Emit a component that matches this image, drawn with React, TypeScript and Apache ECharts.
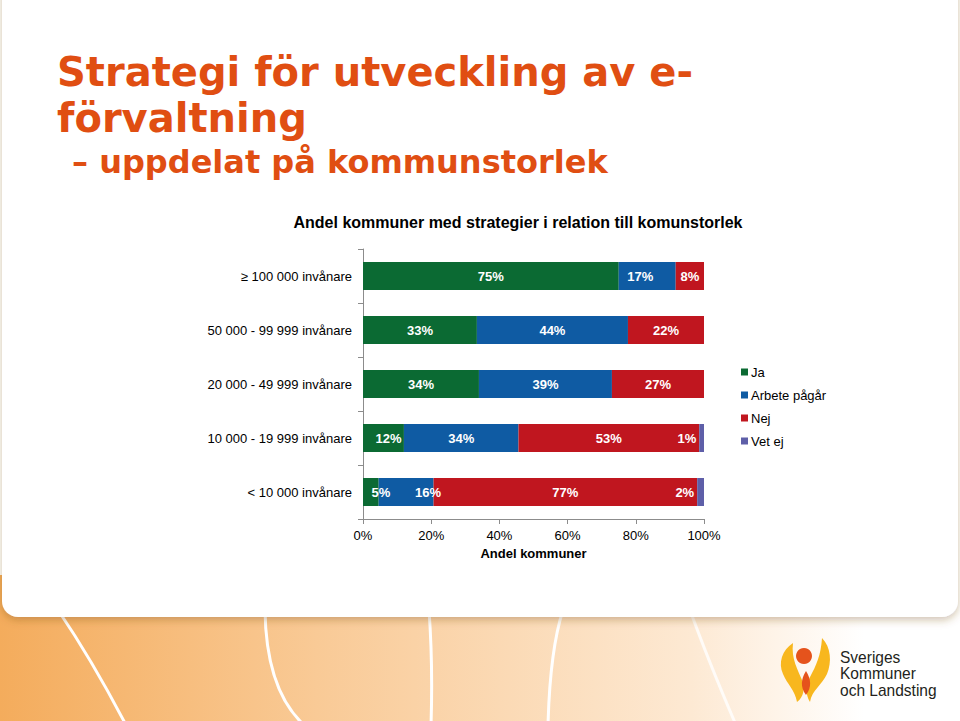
import React, { useEffect, useRef } from "react";
import * as echarts from "echarts";

const categories = [
  "≥ 100 000 invånare",
  "50 000 - 99 999 invånare",
  "20 000 - 49 999 invånare",
  "10 000 - 19 999 invånare",
  "< 10 000 invånare",
];
const seriesNames = ["Ja", "Arbete pågår", "Nej", "Vet ej"];
const jaValues = [75, 33.4, 34, 12, 4.6];
const arbeteValues = [16.7, 44.3, 39, 33.6, 16.1];
const nejValues = [8.3, 22.3, 27, 53, 77.3];
const vetEjValues = [0, 0, 0, 1.4, 2];
const xTicks = [0, 20, 40, 60, 80, 100];

const COLORS = ["#0B6A33", "#0F5BA3", "#C0161F", "#5E5FA8"];
const ORANGE = "#E04E12";

const yellowPath =
  "M793,643 C782,650 778,663 783,674 C787,684 795,690 797,702 C804,697 805,688 802,680 C798,670 791,659 793,643 Z " +
  "M822,638 C831,647 832,662 827,674 C822,685 812,690 810,702 C805,694 806,685 810,677 C816,666 821,655 822,638 Z";
const dropPath = "M806,671 C811,679 812,687 806,695 C800,687 801,679 806,671 Z";

echarts.graphic.registerShape("sklYellow", echarts.graphic.extendPath(yellowPath, {}) as any);
echarts.graphic.registerShape("sklDrop", echarts.graphic.extendPath(dropPath, {}) as any);

// label nudges (series index | category index) -> pixel offset
const labelNudge: Record<string, [number, number]> = {
  "0|3": [5, 0],
  "0|4": [10, 0],
  "1|4": [22, 0],
  "1|0": [-7, 0],
};

export default function App() {
  const ref = useRef<HTMLDivElement>(null);
  useEffect(() => {
    if (!ref.current) return;
    const chart = echarts.init(ref.current, null, { renderer: "svg" });
    const all = [jaValues, arbeteValues, nejValues, vetEjValues];
    const series = all.map((vals, si) => ({
      name: seriesNames[si],
      type: "bar",
      stack: "total",
      barWidth: 28,
      itemStyle: { color: COLORS[si] },
      label: {
        show: true,
        position: si === 3 ? "left" : "inside",
        distance: 3,
        color: "#fff",
        fontWeight: "bold",
        fontSize: 13,
        fontFamily: "Liberation Sans, Arial, sans-serif",
        formatter: (p: any) => (p.value > 0 ? Math.round(p.value) + "%" : ""),
      },
      data: vals.map((v, ci) => {
        const n = labelNudge[si + "|" + ci];
        return n ? { value: v, label: { offset: n } } : v;
      }),
    }));

    const curve = (x1: number, x2: number, cpx: number, cpy: number, op = 1) => ({
      type: "bezierCurve",
      z: 0,
      shape: { x1, y1: 610, x2, y2: 725, cpx1: cpx, cpy1: cpy },
      style: { stroke: `rgba(255,255,255,${op})`, lineWidth: 3, fill: "none" },
    });

    const titleText = (text: string, x: number, y: number, size: number) => ({
      type: "text",
      z: 1,
      x,
      y,
      style: {
        text,
        fill: ORANGE,
        font: `bold ${size}px 'DejaVu Sans', Verdana, sans-serif`,
        lineHeight: size,
        verticalAlign: "top",
      },
    });

    chart.setOption({
      animation: false,
      backgroundColor: "#fff",
      title: {
        text: "Andel kommuner med strategier i relation till komunstorlek",
        left: 513,
        textAlign: "center",
        top: 209,
        textStyle: {
          fontSize: 16,
          fontWeight: "bold",
          color: "#000",
          fontFamily: "Liberation Sans, Arial, sans-serif",
        },
      },
      graphic: [
        {
          type: "rect",
          z: 0,
          shape: { x: 0, y: 575, width: 960, height: 146 },
          style: {
            fill: new echarts.graphic.LinearGradient(0, 0, 1, 0, [
              { offset: 0, color: "#F4AC5C" },
              { offset: 0.33, color: "#F9CA96" },
              { offset: 0.72, color: "#FDE9D3" },
              { offset: 0.9, color: "#FFFFFF" },
              { offset: 1, color: "#FFFFFF" },
            ]),
          },
        },
        curve(58, 126, 92, 660),
        curve(265, 304, 266, 690),
        curve(429, 431, 433, 665),
        curve(563, 548, 550, 650),
        curve(690, 736, 708, 660, 0.8),
        {
          type: "rect",
          z: 0,
          shape: { x: 2, y: -40, width: 956, height: 657, r: 16 },
          style: {
            fill: "#fff",
            shadowBlur: 8,
            shadowOffsetY: 3,
            shadowColor: "rgba(120,80,30,0.35)",
          },
        },
        titleText("Strategi för utveckling av e-", 57, 52, 40),
        titleText("förvaltning", 57, 98, 40),
        titleText("– uppdelat på kommunstorlek", 72, 146, 32),
        {
          type: "sklYellow",
          z: 1,
          x: 0,
          y: 0,
          style: { fill: "#F8B71E" },
        },
        {
          type: "circle",
          z: 1,
          shape: { cx: 804, cy: 656, r: 8 },
          style: { fill: "#E5531C" },
        },
        {
          type: "sklDrop",
          z: 1,
          x: 0,
          y: 0,
          style: { fill: "#E5531C" },
        },
        {
          type: "text",
          z: 1,
          x: 840,
          y: 649,
          scaleX: 0.97,
          style: {
            text: "Sveriges\nKommuner\noch Landsting",
            fill: "#231F20",
            font: "16px 'Liberation Sans', Arial, sans-serif",
            lineHeight: 16.5,
            verticalAlign: "top",
          },
        },
      ],
      legend: {
        orient: "vertical",
        left: 741,
        top: 365,
        padding: 0,
        itemWidth: 7,
        itemHeight: 7,
        itemGap: 9,
        icon: "rect",
        data: seriesNames,
        textStyle: {
          fontSize: 13,
          color: "#000",
          lineHeight: 14,
          padding: [0, 0, 0, -2],
          fontFamily: "Liberation Sans, Arial, sans-serif",
        },
      },
      grid: { left: 363, right: 256, top: 249, bottom: 202, containLabel: false },
      xAxis: {
        type: "value",
        min: xTicks[0],
        max: xTicks[xTicks.length - 1],
        interval: xTicks[1] - xTicks[0],
        name: "Andel kommuner",
        nameLocation: "middle",
        nameGap: 28,
        nameTextStyle: {
          fontSize: 13,
          fontWeight: "bold",
          color: "#000",
          fontFamily: "Liberation Sans, Arial, sans-serif",
        },
        axisLine: { show: true, lineStyle: { color: "#8C8C8C" } },
        axisTick: { show: true, length: 5, lineStyle: { color: "#8C8C8C" } },
        splitLine: { show: false },
        axisLabel: {
          formatter: "{value}%",
          fontSize: 13,
          margin: 10,
          color: "#000",
          fontFamily: "Liberation Sans, Arial, sans-serif",
        },
      },
      yAxis: {
        type: "category",
        inverse: true,
        data: categories,
        axisLine: { show: true, lineStyle: { color: "#8C8C8C" } },
        axisTick: { show: true, length: 5, lineStyle: { color: "#8C8C8C" } },
        axisLabel: {
          fontSize: 13,
          margin: 11,
          color: "#000",
          fontFamily: "Liberation Sans, Arial, sans-serif",
        },
      },
      series,
    });
    return () => chart.dispose();
  }, []);
  return <div ref={ref} style={{ width: 960, height: 721, position: "fixed", left: 0, top: 0 }} />;
}
